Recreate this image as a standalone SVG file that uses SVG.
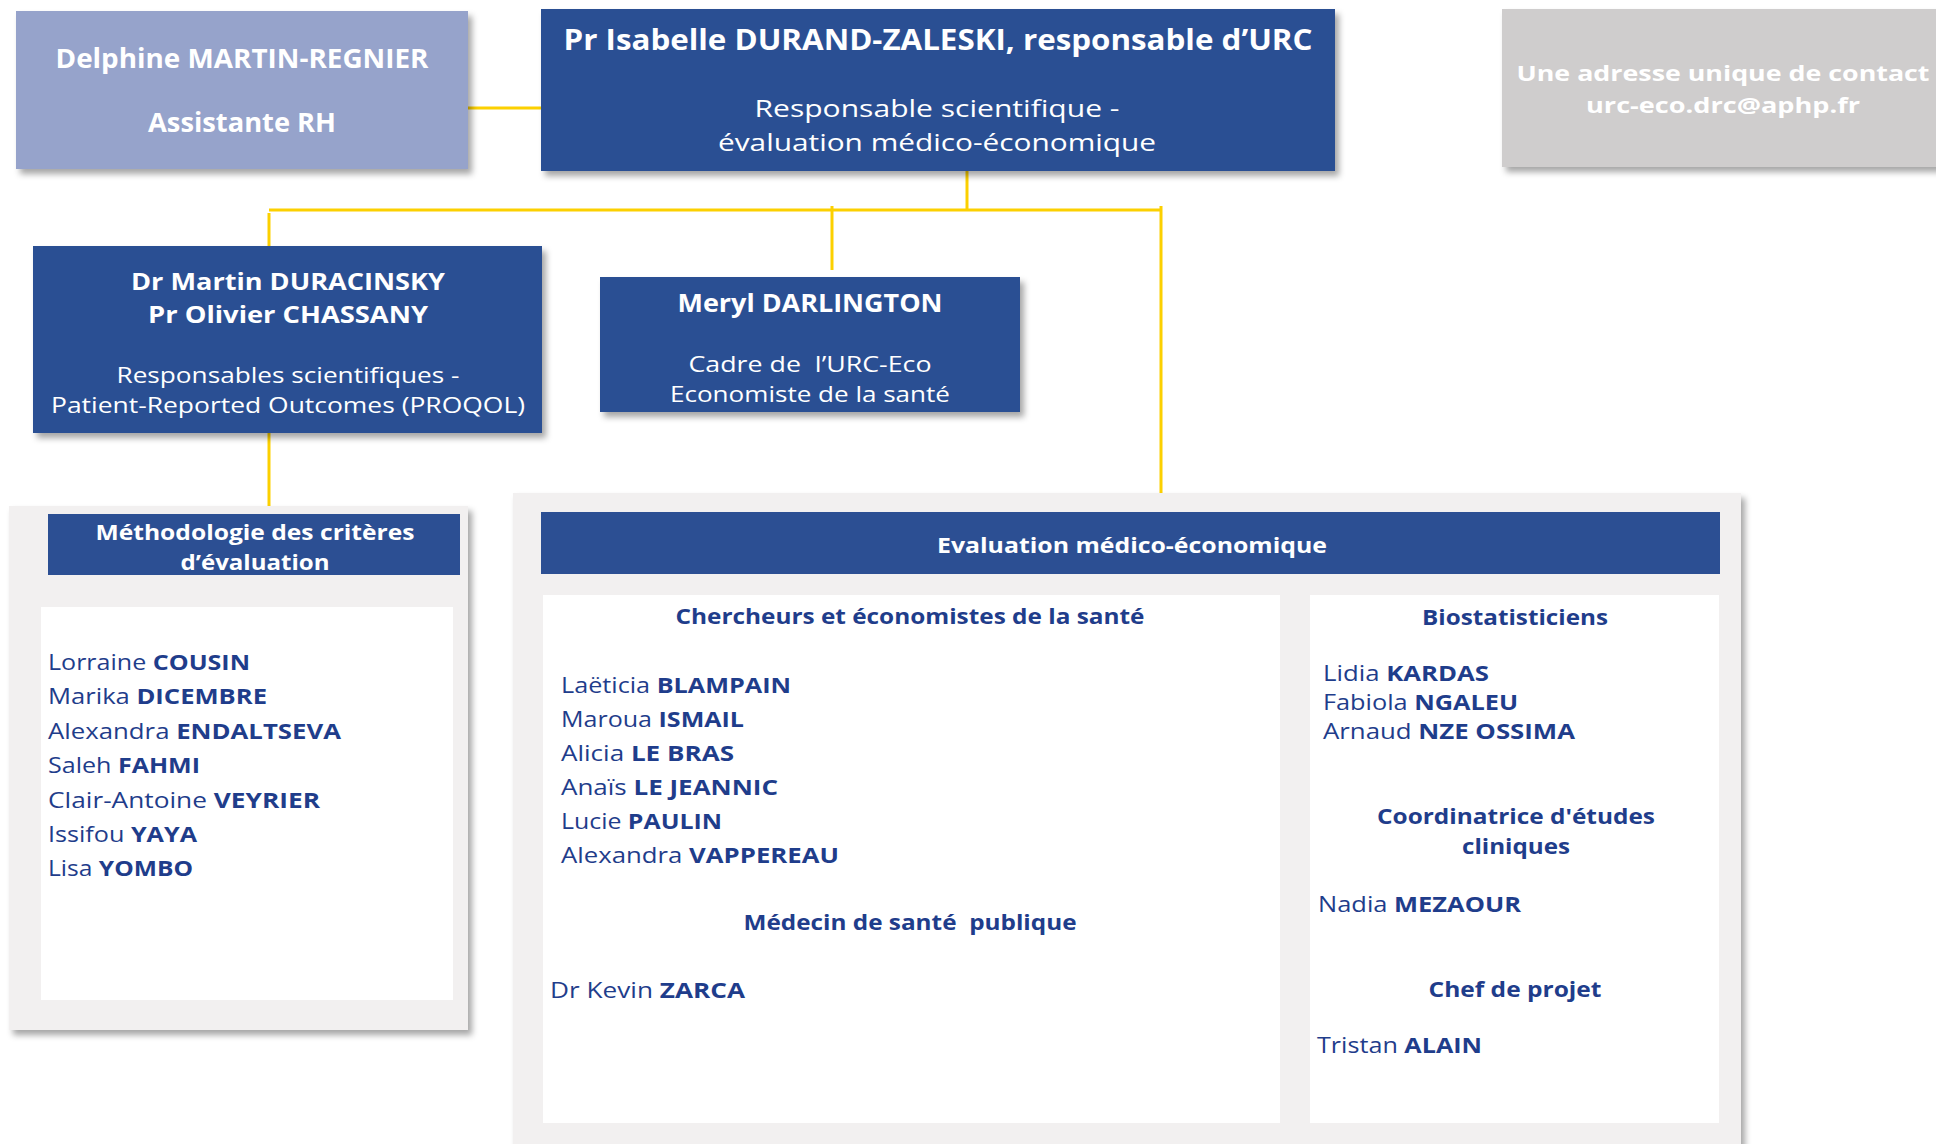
<svg xmlns="http://www.w3.org/2000/svg" width="1936" height="1144" viewBox="0 0 1936 1144">
<defs>
<filter id="sh" x="-5%" y="-5%" width="115%" height="125%">
<feDropShadow dx="4" dy="5" stdDeviation="3" flood-color="#000" flood-opacity="0.35"/>
</filter>
</defs>
<style>
text{font-family:"Open Sans","Liberation Sans",sans-serif;white-space:pre}
.w{fill:#ffffff}
.b{font-weight:700}
.n{fill:#1f3d8b;font-size:22px}
.h{fill:#1f3d8b;font-size:22px;font-weight:700}
.box{fill:#2c4f93}
.pan{fill:#f2f0f0}
.wh{fill:#ffffff}
.con{stroke:#fcd000;stroke-width:3;fill:none}
</style>
<rect width="1936" height="1144" fill="#ffffff"/>

<g id="connectors">
<path class="con" d="M467 108H541"/>
<path class="con" d="M967 171V210"/>
<path class="con" d="M269 210H1161"/>
<path class="con" d="M269 213V246"/>
<path class="con" d="M832 206V270"/>
<path class="con" d="M1161 206V493"/>
<path class="con" d="M269 433V506"/>
</g>

<g id="delphine">
<rect x="16" y="11" width="452" height="158" fill="#96a3cb" filter="url(#sh)"/>
<text class="w b" x="242" y="68" font-size="26" text-anchor="middle" textLength="373" lengthAdjust="spacingAndGlyphs">Delphine MARTIN-REGNIER</text>
<text class="w b" x="242" y="132" font-size="26" text-anchor="middle" textLength="188" lengthAdjust="spacingAndGlyphs">Assistante RH</text>
</g>

<g id="durand-zaleski">
<rect class="box" x="541" y="9" width="794" height="162" filter="url(#sh)"/>
<text class="w b" x="938" y="50" font-size="28" text-anchor="middle" textLength="749" lengthAdjust="spacingAndGlyphs">Pr Isabelle DURAND-ZALESKI, responsable d’URC</text>
<text class="w" x="937" y="117" font-size="24" text-anchor="middle" textLength="365" lengthAdjust="spacingAndGlyphs">Responsable scientifique -</text>
<text class="w" x="937" y="151" font-size="24" text-anchor="middle" textLength="438" lengthAdjust="spacingAndGlyphs">évaluation médico-économique</text>
</g>

<g id="contact">
<rect x="1502" y="9" width="440" height="158" fill="#cfcdcd" filter="url(#sh)"/>
<text class="w b" x="1723" y="81" font-size="22" text-anchor="middle" textLength="413" lengthAdjust="spacingAndGlyphs">Une adresse unique de contact</text>
<text class="w b" x="1723" y="113" font-size="22" text-anchor="middle" textLength="274" lengthAdjust="spacingAndGlyphs">urc-eco.drc@aphp.fr</text>
</g>

<g id="duracinsky-chassany">
<rect class="box" x="33" y="246" width="509" height="187" filter="url(#sh)"/>
<text class="w b" x="288" y="290" font-size="24" text-anchor="middle" textLength="314" lengthAdjust="spacingAndGlyphs">Dr Martin DURACINSKY</text>
<text class="w b" x="288" y="323" font-size="24" text-anchor="middle" textLength="280" lengthAdjust="spacingAndGlyphs">Pr Olivier CHASSANY</text>
<text class="w" x="288" y="383" font-size="22" text-anchor="middle" textLength="343" lengthAdjust="spacingAndGlyphs">Responsables scientifiques -</text>
<text class="w" x="288" y="413" font-size="22" text-anchor="middle" textLength="474" lengthAdjust="spacingAndGlyphs">Patient-Reported Outcomes (PROQOL)</text>
</g>

<g id="darlington">
<rect class="box" x="600" y="277" width="420" height="135" filter="url(#sh)"/>
<text class="w b" x="810" y="312" font-size="25" text-anchor="middle" textLength="265" lengthAdjust="spacingAndGlyphs">Meryl DARLINGTON</text>
<text class="w" x="810" y="372" font-size="22" text-anchor="middle" textLength="243" lengthAdjust="spacingAndGlyphs">Cadre de  l’URC-Eco</text>
<text class="w" x="810" y="402" font-size="22" text-anchor="middle" textLength="280" lengthAdjust="spacingAndGlyphs">Economiste de la santé</text>
</g>

<g id="methodologie">
<rect class="pan" x="9" y="506" width="459" height="524" filter="url(#sh)"/>
<rect class="box" x="48" y="514" width="412" height="61"/>
<text class="w b" x="255" y="540" font-size="22" text-anchor="middle" textLength="319" lengthAdjust="spacingAndGlyphs">Méthodologie des critères</text>
<text class="w b" x="255" y="570" font-size="22" text-anchor="middle" textLength="149" lengthAdjust="spacingAndGlyphs">d’évaluation</text>
<rect class="wh" x="41" y="607" width="412" height="393"/>
<text class="n" x="48" y="670" textLength="202" lengthAdjust="spacingAndGlyphs">Lorraine <tspan class="b">COUSIN</tspan></text>
<text class="n" x="48" y="704" textLength="219" lengthAdjust="spacingAndGlyphs">Marika <tspan class="b">DICEMBRE</tspan></text>
<text class="n" x="48" y="739" textLength="293" lengthAdjust="spacingAndGlyphs">Alexandra <tspan class="b">ENDALTSEVA</tspan></text>
<text class="n" x="48" y="773" textLength="152" lengthAdjust="spacingAndGlyphs">Saleh <tspan class="b">FAHMI</tspan></text>
<text class="n" x="48" y="808" textLength="272" lengthAdjust="spacingAndGlyphs">Clair-Antoine <tspan class="b">VEYRIER</tspan></text>
<text class="n" x="48" y="842" textLength="149" lengthAdjust="spacingAndGlyphs">Issifou <tspan class="b">YAYA</tspan></text>
<text class="n" x="48" y="876" textLength="145" lengthAdjust="spacingAndGlyphs">Lisa <tspan class="b">YOMBO</tspan></text>
</g>

<g id="evaluation">
<rect class="pan" x="513" y="493" width="1228" height="660" filter="url(#sh)"/>
<rect class="box" x="541" y="512" width="1179" height="62"/>
<text class="w b" x="1132" y="553" font-size="22" text-anchor="middle" textLength="390" lengthAdjust="spacingAndGlyphs">Evaluation médico-économique</text>
</g>

<g id="chercheurs">
<rect class="wh" x="543" y="595" width="737" height="528"/>
<text class="h" x="910" y="624" text-anchor="middle" textLength="469" lengthAdjust="spacingAndGlyphs">Chercheurs et économistes de la santé</text>
<text class="n" x="561" y="693" textLength="230" lengthAdjust="spacingAndGlyphs">Laëticia <tspan class="b">BLAMPAIN</tspan></text>
<text class="n" x="561" y="727" textLength="183" lengthAdjust="spacingAndGlyphs">Maroua <tspan class="b">ISMAIL</tspan></text>
<text class="n" x="561" y="761" textLength="173" lengthAdjust="spacingAndGlyphs">Alicia <tspan class="b">LE BRAS</tspan></text>
<text class="n" x="561" y="795" textLength="217" lengthAdjust="spacingAndGlyphs">Anaïs <tspan class="b">LE JEANNIC</tspan></text>
<text class="n" x="561" y="829" textLength="161" lengthAdjust="spacingAndGlyphs">Lucie <tspan class="b">PAULIN</tspan></text>
<text class="n" x="561" y="863" textLength="278" lengthAdjust="spacingAndGlyphs">Alexandra <tspan class="b">VAPPEREAU</tspan></text>
<text class="h" x="910" y="930" text-anchor="middle" textLength="333" lengthAdjust="spacingAndGlyphs">Médecin de santé  publique</text>
<text class="n" x="550" y="998" textLength="195" lengthAdjust="spacingAndGlyphs">Dr Kevin <tspan class="b">ZARCA</tspan></text>
</g>

<g id="biostatisticiens">
<rect class="wh" x="1310" y="595" width="409" height="528"/>
<text class="h" x="1515" y="625" text-anchor="middle" textLength="186" lengthAdjust="spacingAndGlyphs">Biostatisticiens</text>
<text class="n" x="1323" y="681" textLength="166" lengthAdjust="spacingAndGlyphs">Lidia <tspan class="b">KARDAS</tspan></text>
<text class="n" x="1323" y="710" textLength="195" lengthAdjust="spacingAndGlyphs">Fabiola <tspan class="b">NGALEU</tspan></text>
<text class="n" x="1323" y="739" textLength="252" lengthAdjust="spacingAndGlyphs">Arnaud <tspan class="b">NZE OSSIMA</tspan></text>
<text class="h" x="1516" y="824" text-anchor="middle" textLength="278" lengthAdjust="spacingAndGlyphs">Coordinatrice d'études</text>
<text class="h" x="1516" y="854" text-anchor="middle" textLength="108" lengthAdjust="spacingAndGlyphs">cliniques</text>
<text class="n" x="1318" y="912" textLength="203" lengthAdjust="spacingAndGlyphs">Nadia <tspan class="b">MEZAOUR</tspan></text>
<text class="h" x="1515" y="997" text-anchor="middle" textLength="173" lengthAdjust="spacingAndGlyphs">Chef de projet</text>
<text class="n" x="1317" y="1053" textLength="165" lengthAdjust="spacingAndGlyphs">Tristan <tspan class="b">ALAIN</tspan></text>
</g>
</svg>
